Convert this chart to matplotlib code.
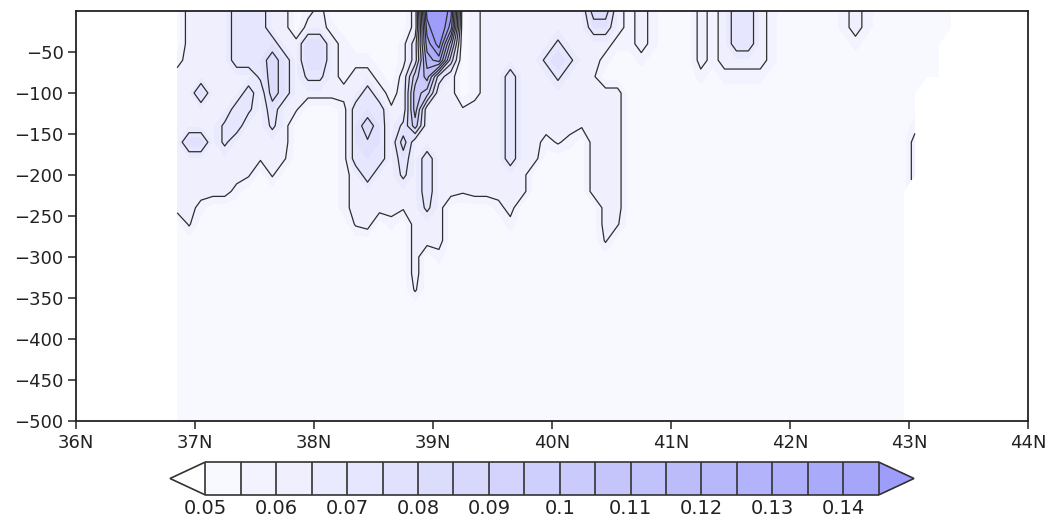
import numpy as np
import matplotlib
matplotlib.use("Agg")
import matplotlib.pyplot as plt

# grid: first latitude column and spacing (deg N)
lat_start = 36.85
lat_step = 0.1

# depth of each grid row (m)
depths = [0, -20, -40, -60, -80, -100, -120, -140, -160, -180, -200,
          -220, -240, -260, -280, -300, -320, -340, -360, -400, -450, -500]

# value of each letter used in the field map ('#' = no data)
code_values = {'.': 0.052, '0': 0.057, '-': 0.061, '1': 0.0635, '=': 0.072,
               '2': 0.075, '+': 0.079, '3': 0.085, '4': 0.095, '5': 0.105,
               '6': 0.115, '7': 0.125, '8': 0.135, '9': 0.145, 'a': 0.155,
               'b': 0.165}

# field: one string per depth row, one letter per 0.1 deg
# (spaces only group the columns by ten)
field_rows = [
    ".111122211 .01....... 1ab9.01111 1111133101 0...101221 0.....010. ......",
    ".111122211 .110...... 19b8.01111 1111122101 0...101221 0.....010. ......",
    ".111122221 1++10....0 28a5.01111 11=1111001 0...101221 0......0.. .....#",
    "0111122232 1++1000..0 2783.01111 1=+=110..0 ....101111 0......... .....#",
    "1111111=32 1==10110.1 4621.01121 11=11-.... ....0.0000 .......... .....#",
    "11+1112132 1111112101 5411.01121 11111111.. .......... .......... ...###",
    "111112=121 -...0222-1 5111-11121 11111111.. .......... .......... ...###",
    "1111=211=1 ....02321= 4111111121 1111-111.. .......... .......... ..0###",
    "1++1=11111 ....02+213 1111111121 10-0.111.. .......... .......... ..1###",
    "1111111-1- ....022212 1211111121 1....111.. .......... .......... ..1###",
    "111111-.-. ....01211= 1211111111 .....111.. .......... .......... ..1###",
    "111110.... ....011111 1211-11111 .....111.. .......... .......... ..####",
    "110....... ....01111- 1=1....01. ......11.. .......... .......... ..####",
    ".-........ .....-1.0. 111.....0. ......1-.. .......... .......... ..####",
    ".......... .......... 111....... ......-... .......... .......... ..####",
    ".......... .......... 1.0....... .......... .......... .......... ..####",
    ".......... .......... 1......... .......... .......... .......... ..####",
    ".......... .......... -......... .......... .......... .......... ..####",
    ".......... .......... .......... .......... .......... .......... ..####",
    ".......... .......... .......... .......... .......... .......... ..####",
    ".......... .......... .......... .......... .......... .......... ..####",
    ".......... .......... .......... .......... .......... .......... ..####",
]

x_ticks = [36, 37, 38, 39, 40, 41, 42, 43, 44]
x_labels = ["36N", "37N", "38N", "39N", "40N", "41N", "42N", "43N", "44N"]
y_ticks = [-500, -450, -400, -350, -300, -250, -200, -150, -100, -50]
cbar_ticks = [0.05, 0.06, 0.07, 0.08, 0.09, 0.10, 0.11, 0.12, 0.13, 0.14]
cbar_labels = ["0.05", "0.06", "0.07", "0.08", "0.09", "0.1", "0.11", "0.12", "0.13", "0.14"]

# build the grid
field = np.array([[code_values.get(ch, np.nan) for ch in row.replace(" ", "")]
                  for row in field_rows])
field = np.ma.masked_invalid(field)
lats = lat_start + lat_step * np.arange(field.shape[1])

shade_levels = np.round(np.arange(10, 30) * 0.005, 4)   # 0.05 .. 0.145
line_levels = np.round(np.arange(6, 16) * 0.01, 3)      # 0.06 .. 0.15

# pale lavender to blue, one colour per band, plus under/over colours
n_box = len(shade_levels) - 1
box_colors = []
for i in range(n_box):
    t = i / (n_box - 1)
    r = (248 - t * 83) / 255
    b = (255 - t * 5) / 255
    box_colors.append((r, r, b))
fill_colors = [(1.0, 1.0, 1.0)] + box_colors + [(158 / 255, 158 / 255, 250 / 255)]

W, H = 1049, 519
fig = plt.figure(figsize=(W / 100, H / 100), dpi=100)
ax = fig.add_axes([76 / W, 1 - 421 / H, (1028 - 76) / W, (421 - 11) / H])

cf = ax.contourf(lats, depths, field, levels=shade_levels, colors=fill_colors, extend='both')
ax.contour(lats, depths, field, levels=line_levels, colors='#2e2e2e', linewidths=0.9)

ax.set_xlim(36, 44)
ax.set_ylim(-500, 0)
ax.set_xticks(x_ticks)
ax.set_xticklabels(x_labels)
ax.set_yticks(y_ticks)
ax.tick_params(direction='out', length=6, width=1.1, labelsize=13, pad=3, colors='#222222')
for sp in ax.spines.values():
    sp.set_linewidth(1.3)
    sp.set_color('#222222')

# colorbar (axes spans the triangles too)
cax = fig.add_axes([170 / W, 1 - 495 / H, (914 - 170) / W, 33 / H])
cbar = fig.colorbar(cf, cax=cax, orientation='horizontal', extendfrac='auto', drawedges=True)
cbar.set_ticks(cbar_ticks, labels=cbar_labels)
cbar.ax.tick_params(length=0, labelsize=14, pad=3, colors='#222222')
cbar.outline.set_linewidth(1.2)
cbar.outline.set_edgecolor('#333333')
cbar.dividers.set_linewidth(1.2)
cbar.dividers.set_color('#333333')

fig.savefig("out.png", dpi=100)
